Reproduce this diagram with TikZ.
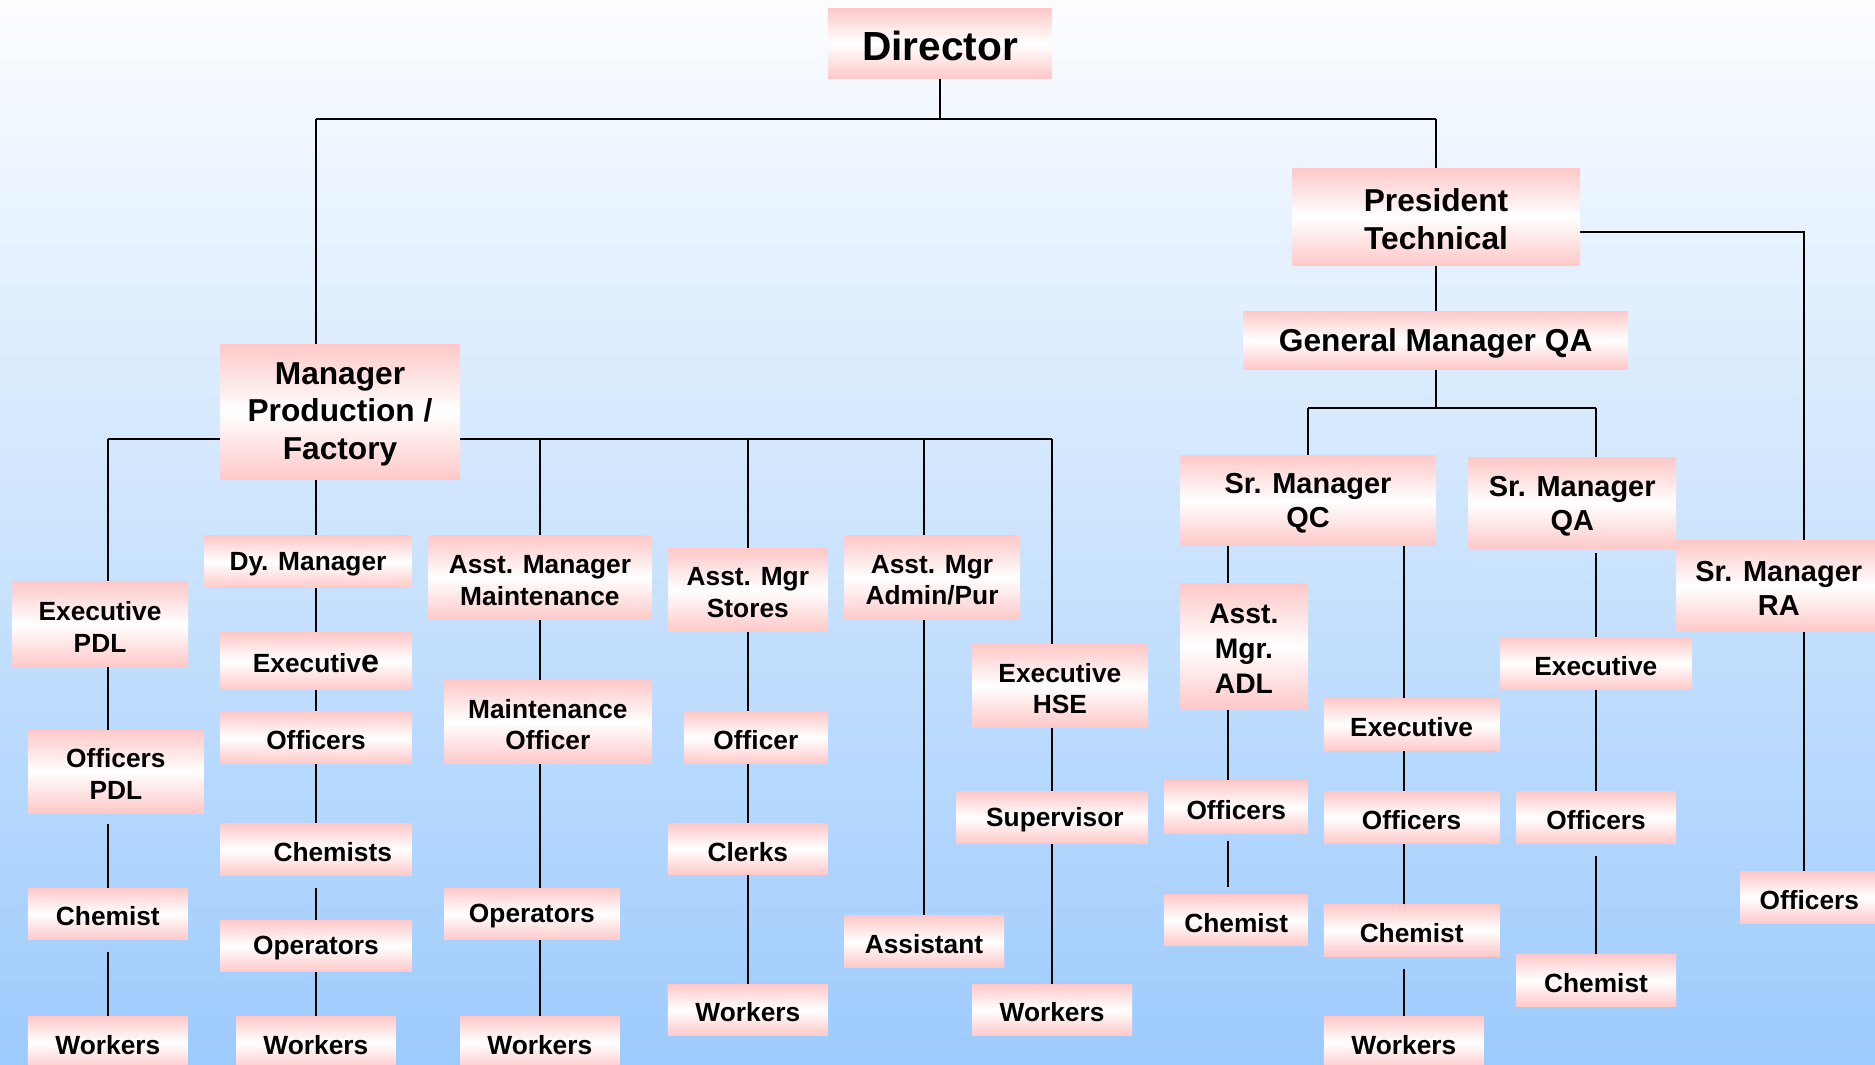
\documentclass[tikz,border=0pt]{standalone}
\usepackage{fontspec}
\setmainfont{Liberation Sans}
\definecolor{boxpink}{RGB}{255,200,200}
\definecolor{bgtop}{RGB}{252,253,255}
\definecolor{bgbot}{RGB}{157,203,253}
\pgfdeclarelayer{back}
\pgfdeclarelayer{edges}
\pgfsetlayers{back,edges,main}
\tikzset{
  box/.style={rectangle, inner sep=0pt, top color=boxpink, bottom color=boxpink, middle color=white},
  boxtext/.style={inner sep=0pt, align=center, text=black},
  fa/.style={font=\fontsize{22}{26.4}\selectfont\bfseries},
  fb/.style={font=\fontsize{24.2}{28.4}\selectfont\bfseries},
  fadl/.style={font=\fontsize{23.6}{29.3}\selectfont\bfseries},
  fc/.style={font=\fontsize{26.5}{31.6}\selectfont\bfseries},
  fd/.style={font=\fontsize{34}{40}\selectfont\bfseries},
  conn/.style={draw=black, line width=1.7pt},
}
\newcommand\bx[7][fa]{%
  \pgfmathsetmacro\bxw{#5-#3}\pgfmathsetmacro\bxh{#6-#4}%
  \pgfmathsetmacro\bxx{(#3+#5)/2}\pgfmathsetmacro\bxy{(#4+#6)/2}%
  \node[box,minimum width=\bxw pt,minimum height=\bxh pt] (#2) at (\bxx,\bxy) {};
  \node[boxtext,#1] (#2t) at ([yshift=-2.2pt]#2.center) {#7};}
\begin{document}
\begin{tikzpicture}[x=1pt,y=-1pt]
\useasboundingbox (0,0) rectangle (1568,890.6);
\begin{pgfonlayer}{back}
\shade[top color=bgtop, bottom color=bgbot] (0,0) rectangle (1568,890.6);
\end{pgfonlayer}
% top levels
\bx[fd]{dir}{692.4}{6.7}{879.7}{66}{Director}
\bx[fc]{pt}{1080.5}{140.5}{1321.3}{222.2}{President\\Technical}
\bx[fc]{gm}{1040}{260.3}{1361.2}{309.1}{General Manager QA}
\bx[fc]{mgr}{184}{287.7}{384.7}{400.8}{Manager\\Production /\\Factory}
\bx[fb]{smqc}{986.8}{380.5}{1200.9}{456.3}{Sr. Manager\\QC}
\bx[fb]{smqa}{1228}{383}{1401.6}{459}{Sr. Manager\\QA}
\bx[fb]{smra}{1401.6}{452}{1573.4}{528.2}{Sr. Manager\\RA}
% PDL column
\bx{expdl}{10}{486.7}{157.3}{557.7}{Executive\\PDL}
\bx{ofpdl}{23.4}{610.5}{170.4}{680}{Officers\\PDL}
\bx{chpdl}{23.4}{742.6}{157}{785.8}{Chemist}
\bx{wkpdl}{23.4}{849.7}{157}{894}{Workers}
% Dy. Manager column
\bx{dym}{170.6}{448.2}{344.5}{491.5}{Dy. Manager}
\bx{exdy}{184}{528.8}{344.5}{576.7}{Executiv{\fontsize{27}{30}\selectfont e}}
\bx{ofdy}{184}{595.2}{344.5}{638.6}{Officers}
\bx{chdy}{184}{688.5}{344.5}{732.3}{\hspace*{28pt}Chemists}
\bx{opdy}{184}{769.4}{344.5}{812.6}{Operators}
\bx{wkdy}{197.4}{849.7}{330.9}{894}{Workers}
% Maintenance column
\bx{amm}{358}{448.2}{545}{518}{Asst. Manager\\Maintenance}
\bx{mo}{371.3}{569}{545}{638.6}{Maintenance\\Officer}
\bx{opm}{371.3}{742.6}{518.2}{785.8}{Operators}
\bx{wkm}{384.7}{849.7}{518.2}{894}{Workers}
% Stores column
\bx{ams}{558.6}{458.3}{692.2}{528.2}{Asst. Mgr\\Stores}
\bx{ofs}{572}{594.9}{692.2}{638.6}{Officer}
\bx{cls}{558.6}{688.5}{692.2}{731.7}{Clerks}
\bx{wks}{558.6}{822.9}{692.2}{866.1}{Workers}
% Admin column
\bx{ama}{705.8}{448.2}{853}{518}{Asst. Mgr\\Admin/Pur}
\bx{asa}{705.8}{766}{839.6}{809.2}{Assistant}
% HSE column
\bx{exh}{812.9}{538.8}{959.8}{608.5}{Executive\\HSE}
\bx{suh}{799.5}{661.8}{959.8}{705.5}{\hspace*{5pt}Supervisor}
\bx{wkh}{812.9}{822.9}{946.7}{866.1}{Workers}
% QC columns
\bx[fadl]{adl}{986.8}{488}{1093.6}{593}{Asst.\\Mgr.\\ADL}
\bx{ofadl}{974}{653}{1093.6}{697}{Officers}
\bx{chadl}{974}{748}{1093.6}{791}{Chemist}
\bx{exqc}{1107}{583.8}{1254}{628}{Executive}
\bx{ofqc}{1107}{661.8}{1254}{705.5}{Officers}
\bx{chqc}{1107}{756.5}{1254}{799.5}{Chemist}
\bx{wkqc}{1107}{849.7}{1241}{894}{Workers}
% QA column
\bx{exqa}{1254.4}{533}{1414.7}{576.7}{Executive}
\bx{ofqa}{1267.8}{661.8}{1401.6}{705.5}{Officers}
\bx{chqa}{1267.8}{797.8}{1401.6}{842.1}{Chemist}
% RA
\bx{ofra}{1455.1}{728.7}{1571}{772.4}{Officers}
% junction coordinates
\coordinate (tl) at (264.3,99.5);
\coordinate (tr) at (1200.9,99.5);
\coordinate (ra) at (1508.6,193.7);
\coordinate (gl) at (1093.8,340.9);
\coordinate (gr) at (1334.4,340.9);
\coordinate (ml) at (90,367.4);
\coordinate (mr) at (879.7,367.4);
\coordinate (cm) at (451.6,367.4);
\coordinate (cs) at (625.5,367.4);
\coordinate (ca) at (772.7,367.4);
\coordinate (cadl) at (1026.7,0);
\coordinate (cqc) at (1174.1,0);
\begin{pgfonlayer}{edges}
\draw[conn] (dir.south) -- (dir.south |- tl);
\draw[conn] (tl) -- (tr);
\draw[conn] (tl) -- (tl |- mgr.north);
\draw[conn] (tr) -- (pt.north -| tr);
\draw[conn] (pt.south -| tr) -- (gm.north -| tr);
\draw[conn] (pt.east |- ra) -- (ra) -- (smra.north -| ra);
\draw[conn] (smra.south -| ra) -- (ofra.north -| ra);
\draw[conn] (gm.south -| tr) -- (tr |- gl);
\draw[conn] (gl) -- (gr);
\draw[conn] (gl) -- (smqc.north -| gl);
\draw[conn] (gr) -- (smqa.north -| gr);
\draw[conn] (ml) -- (mr);
% PDL
\draw[conn] (ml) -- (expdl.north -| ml);
\draw[conn] (expdl.south -| ml) -- (ofpdl.north -| ml);
\draw[conn, shorten <=9pt] (ofpdl.south -| ml) -- (chpdl.north -| ml);
\draw[conn, shorten <=10pt] (chpdl.south -| ml) -- (wkpdl.north -| ml);
% Dy
\draw[conn] (mgr.south -| tl) -- (dym.north -| tl);
\draw[conn] (dym.south -| tl) -- (exdy.north -| tl);
\draw[conn] (exdy.south -| tl) -- (ofdy.north -| tl);
\draw[conn] (ofdy.south -| tl) -- (chdy.north -| tl);
\draw[conn, shorten <=10pt] (chdy.south -| tl) -- (opdy.north -| tl);
\draw[conn] (opdy.south -| tl) -- (wkdy.north -| tl);
% Maintenance
\draw[conn] (cm) -- (amm.north -| cm);
\draw[conn] (amm.south -| cm) -- (mo.north -| cm);
\draw[conn] (mo.south -| cm) -- (opm.north -| cm);
\draw[conn] (opm.south -| cm) -- (wkm.north -| cm);
% Stores
\draw[conn] (cs) -- (ams.north -| cs);
\draw[conn] (ams.south -| cs) -- (ofs.north -| cs);
\draw[conn] (ofs.south -| cs) -- (cls.north -| cs);
\draw[conn] (cls.south -| cs) -- (wks.north -| cs);
% Admin
\draw[conn] (ca) -- (ama.north -| ca);
\draw[conn] (ama.south -| ca) -- (asa.north -| ca);
% HSE
\draw[conn] (mr) -- (exh.north -| mr);
\draw[conn] (exh.south -| mr) -- (suh.north -| mr);
\draw[conn] (suh.south -| mr) -- (wkh.north -| mr);
% QC
\draw[conn, shorten <=-7pt] (smqc.south -| cadl) -- (adl.north -| cadl);
\draw[conn] (adl.south -| cadl) -- (ofadl.north -| cadl);
\draw[conn, shorten <=6pt, shorten >=6pt] (ofadl.south -| cadl) -- (chadl.north -| cadl);
\draw[conn] (smqc.south -| cqc) -- (exqc.north -| cqc);
\draw[conn] (exqc.south -| cqc) -- (ofqc.north -| cqc);
\draw[conn] (ofqc.south -| cqc) -- (chqc.north -| cqc);
\draw[conn, shorten <=11pt] (chqc.south -| cqc) -- (wkqc.north -| cqc);
% QA
\draw[conn, shorten <=3pt] (smqa.south -| gr) -- (exqa.north -| gr);
\draw[conn] (exqa.south -| gr) -- (ofqa.north -| gr);
\draw[conn, shorten <=10pt] (ofqa.south -| gr) -- (chqa.north -| gr);
\end{pgfonlayer}
\end{tikzpicture}
\end{document}
